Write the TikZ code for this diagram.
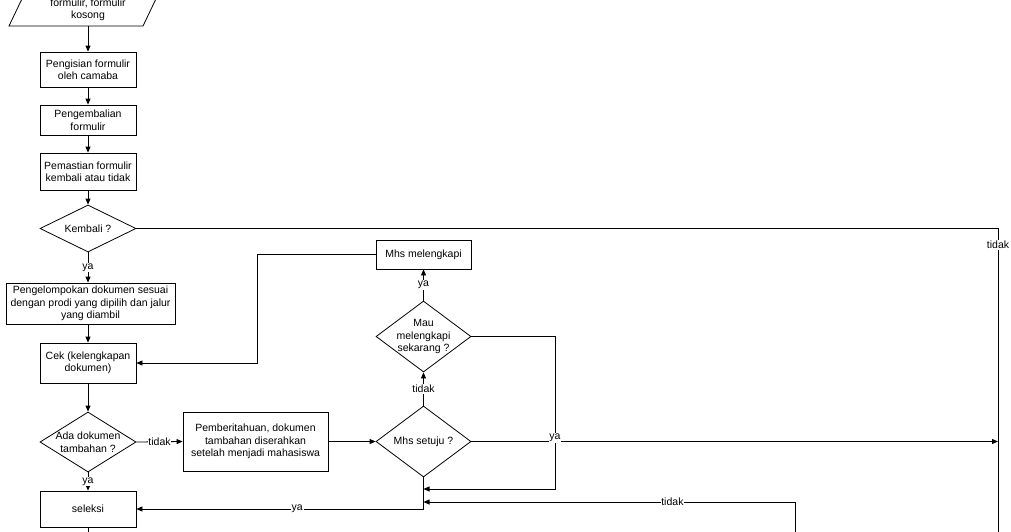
\documentclass[tikz,border=0pt]{standalone}
\usepackage{fontspec}
\setmainfont{Liberation Sans}
\usetikzlibrary{shapes.geometric,arrows.meta,calc}
\begin{document}
\begin{tikzpicture}[x=1pt,y=-1pt,
  every node/.style={font=\fontsize{10.5}{12.5}\selectfont},
  box/.style={draw,line width=0.8pt,align=center,inner sep=1pt,rectangle},
  dia/.style={draw,line width=0.8pt,diamond,inner sep=0pt},
  lbl/.style={fill=white,inner sep=0.8pt},
  arr/.style={line width=0.8pt,-{Triangle[length=6pt,width=5pt]}},
  ln/.style={line width=0.8pt}]
\useasboundingbox (0,0) rectangle (1011,531);
\clip (0,0) rectangle (1011,531);
% start
\draw[ln] (9,26) -- (143,26) -- (165,-20) -- (31,-20) -- cycle;
\node[align=center] (st) at (88,10) {formulir, formulir\\kosong};
\coordinate (stb) at (88,26);
% left column
\node[box,minimum width=96pt,minimum height=35pt] (b1) at (88,69.5) {Pengisian formulir\\oleh camaba};
\node[box,minimum width=96pt,minimum height=30pt] (b2) at (88,120) {Pengembalian\\formulir};
\node[box,minimum width=96pt,minimum height=37pt] (b3) at (88,171.5) {Pemastian formulir\\kembali atau tidak};
\node[dia,minimum width=96pt,minimum height=47pt] (d1) at (88,228.5) {};
\node (d1t) at (d1) {Kembali ?};
\node[box,minimum width=169pt,minimum height=41pt] (b4) at (90.5,303.5) {Pengelompokan dokumen sesuai\\dengan prodi yang dipilih dan jalur\\yang diambil};
\node[box,minimum width=96pt,minimum height=40pt] (b5) at (88,363) {Cek (kelengkapan\\dokumen)};
\node[dia,minimum width=96pt,minimum height=60pt] (d2) at (88,442) {};
\node[align=center] (d2t) at (d2) {Ada dokumen\\tambahan ?};
\node[box,minimum width=145pt,minimum height=59pt] (b6) at (255.5,441.5) {Pemberitahuan, dokumen\\tambahan diserahkan\\setelah menjadi mahasiswa};
\node[box,minimum width=96pt,minimum height=36pt] (b7) at (88,509) {seleksi};
% middle column
\node[box,minimum width=95pt,minimum height=29pt] (b8) at (423.5,254.5) {Mhs melengkapi};
\node[dia,minimum width=95pt,minimum height=71pt] (d3) at (423.5,336.5) {};
\node[align=center] (d3t) at (d3) {Mau\\melengkapi\\sekarang ?};
\node[dia,minimum width=95pt,minimum height=71pt] (d4) at (423.5,441.5) {};
\node (d4t) at (d4) {Mhs setuju ?};
% helper coordinates
\coordinate (rt) at (998,228.5);
\coordinate (rb) at (998,545);
\coordinate (k1) at (257,254.5);
\coordinate (r1) at (555,489);
\coordinate (m1) at (423.5,489);
\coordinate (r2) at (795,545);
\coordinate (r2t) at (795,502);
\coordinate (m2) at (423.5,502);
\coordinate (rr) at (998,441.5);
\coordinate (sb) at (88,545);
% connectors
\draw[arr] (stb) -- (b1);
\draw[arr] (b1) -- (b2);
\draw[arr] (b2) -- (b3);
\draw[arr] (b3) -- (d1);
\draw[arr] (d1.south) -- node[lbl] (l1) {ya} (d1.south |- b4.north);
\draw[ln] (d1.east) -- (rt) -- (rb);
\node[lbl] (l2) at (998,245) {tidak};
\draw[arr] (b4.south -| b5.north) -- (b5.north);
\draw[arr] (b8.west) -- (k1) |- (b5.east);
\draw[arr] (b5) -- (d2);
\draw[arr] (d2.east) -- node[lbl] (l3) {tidak} (b6.west);
\draw[arr] (d2.south) -- node[lbl] (l4) {ya} (b7.north);
\draw[ln] (b7.south) -- (sb);
\draw[arr] (b6.east) -- (d4.west);
\draw[arr] (d4.north) -- node[lbl] (l5) {tidak} (d3.south);
\draw[arr] (d3.north) -- node[lbl] (l6) {ya} (b8.south);
\draw[arr] (d3.east) -| (r1) -- (m1);
\draw[arr] (d4.east) -- (rr);
\node[lbl] (l7) at (555,438) {ya};
\draw[arr] (d4.south) |- node[lbl,pos=0.72] (l8) {ya} (b7.east);
\draw[arr] (r2) -- (r2t) -- node[lbl,pos=0.33] (l9) {tidak} (m2);
\end{tikzpicture}
\end{document}
